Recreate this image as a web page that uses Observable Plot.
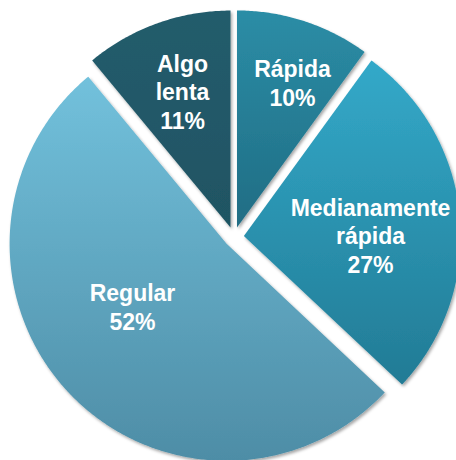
<!DOCTYPE html>
<html><head><meta charset="utf-8">
<script src="https://cdn.jsdelivr.net/npm/d3@7"></script>
<script src="https://cdn.jsdelivr.net/npm/@observablehq/plot@0.6"></script>
<style>body{margin:0;background:#fff;overflow:hidden}</style>
</head><body><div id="chart"></div>
<script>
// Data
const categories = ["Rápida", "Medianamente\nrápida", "Regular", "Algo\nlenta"];
const percents = [10, 27, 52, 11];

// Styles
const topColors = ["#2b8da6", "#33a9c9", "#72c1dc", "#245c6c"];
const bottomColors = ["#206d84", "#227b95", "#4e8da6", "#1f5463"];

// Layout
const W = 456, H = 460;
const cx = 233.4, cy = 236.5, R = 217, explode = 10;
const labelX = [292, 370, 132, 182];
const labelY = [82, 235, 306, 91];

const arcs = d3.pie().sort(null).value(d => d)(percents);
const slices = arcs.map((a, i) => {
  const mid = (a.startAngle + a.endAngle) / 2;
  const ox = cx + explode * Math.sin(mid), oy = cy - explode * Math.cos(mid);
  const pts = [{x: ox, y: oy}];
  const n = Math.max(8, Math.ceil((a.endAngle - a.startAngle) / (Math.PI / 360)));
  for (let k = 0; k <= n; k++) {
    const t = a.startAngle + (a.endAngle - a.startAngle) * k / n;
    pts.push({x: ox + R * Math.sin(t), y: oy - R * Math.cos(t)});
  }
  pts.push({x: ox, y: oy});
  return pts;
});

const labels = categories.map((c, i) => ({x: labelX[i], y: labelY[i], text: `${c}\n${percents[i]}%`}));

const chart = Plot.plot({
  width: W, height: H,
  margin: 0,
  x: {domain: [0, W], range: [0, W], axis: null},
  y: {domain: [0, H], range: [0, H], axis: null},
  marks: [
    ...slices.map((pts, i) => Plot.line(pts, {x: "x", y: "y", fill: `url(#grad${i})`, stroke: "none", curve: "linear"})),
    Plot.text(labels, {x: "x", y: "y", text: "text", fill: "white", fontSize: 23, fontWeight: "bold",
      fontFamily: "'Liberation Sans', Arial, sans-serif", lineHeight: 1.22})
  ]
});

const svgns = "http://www.w3.org/2000/svg";
const defs = document.createElementNS(svgns, "defs");
topColors.forEach((c, i) => {
  const g = document.createElementNS(svgns, "linearGradient");
  g.setAttribute("id", `grad${i}`);
  g.setAttribute("x1", "0"); g.setAttribute("y1", "0");
  g.setAttribute("x2", "0"); g.setAttribute("y2", "1");
  const s1 = document.createElementNS(svgns, "stop");
  s1.setAttribute("offset", "0"); s1.setAttribute("stop-color", c);
  const s2 = document.createElementNS(svgns, "stop");
  s2.setAttribute("offset", "1"); s2.setAttribute("stop-color", bottomColors[i]);
  g.appendChild(s1); g.appendChild(s2);
  defs.appendChild(g);
});
const f = document.createElementNS(svgns, "filter");
f.setAttribute("id", "shadow");
f.setAttribute("x", "-10%"); f.setAttribute("y", "-10%");
f.setAttribute("width", "120%"); f.setAttribute("height", "120%");
const ds = document.createElementNS(svgns, "feDropShadow");
ds.setAttribute("dx", "1.5"); ds.setAttribute("dy", "2");
ds.setAttribute("stdDeviation", "1.8");
ds.setAttribute("flood-color", "#000"); ds.setAttribute("flood-opacity", "0.35");
f.appendChild(ds);
defs.appendChild(f);
chart.insertBefore(defs, chart.firstChild);
chart.querySelectorAll("g[aria-label='line']").forEach(g => g.setAttribute("filter", "url(#shadow)"));
chart.style.background = "#fff";
document.getElementById("chart").appendChild(chart);
</script>
</body></html>
